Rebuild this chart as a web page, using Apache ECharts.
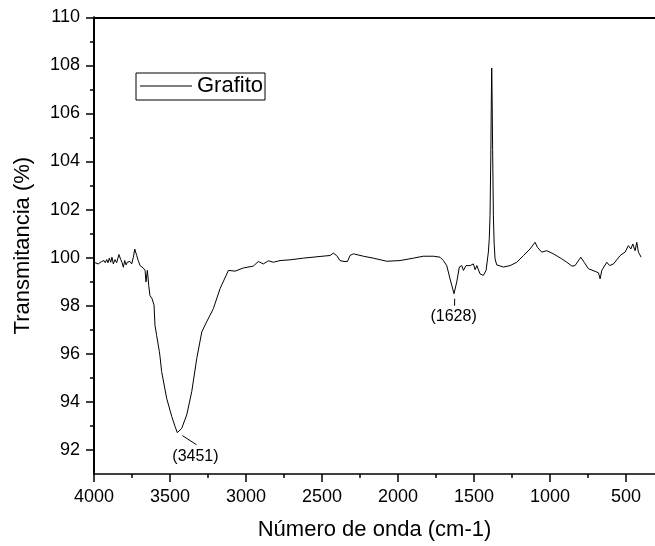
<!DOCTYPE html>
<html>
<head>
<meta charset="utf-8">
<script src="https://cdn.jsdelivr.net/npm/echarts@6/dist/echarts.min.js"></script>
<style>
html,body{margin:0;padding:0;background:#fff;}
#chart{width:655px;height:546px;}
</style>
</head>
<body>
<div id="chart"></div>
<script>
var wavenumbers = [3993,3972,3961,3950,3943,3934,3926,3916,3908,3899,3890,3882,3873,3862,3851,3836,3824,3816,3807,3798,3789,3781,3772,3763,3752,3741,3732,3719,3709,3697,3686,3676,3664,3658,3649,3640,3632,3618,3605,3599,3588,3570,3566,3555,3522,3489,3467,3452,3439,3423,3390,3357,3324,3291,3259,3215,3171,3116,3072,3018,2952,2919,2886,2853,2820,2776,2711,2623,2513,2447,2426,2404,2382,2355,2333,2316,2294,2228,2163,2074,1987,1899,1834,1768,1724,1702,1680,1658,1632,1614,1597,1581,1570,1553,1526,1505,1493,1482,1461,1439,1421,1406,1400,1395,1390,1386,1384,1382,1378,1373,1368,1362,1351,1307,1263,1219,1175,1132,1099,1083,1055,1022,978,923,890,857,836,798,776,748,704,682,671,660,627,609,583,539,507,485,469,456,441,430,419,401];
var transmittance = [99.79,99.74,99.81,99.84,99.79,99.88,99.79,99.92,99.79,99.98,99.81,100.02,99.74,99.92,99.79,100.13,99.92,99.81,99.6,99.88,99.70,99.81,99.74,99.84,99.74,100.02,100.36,100.09,99.88,99.67,99.74,99.57,99.47,98.99,99.47,98.84,98.43,98.29,98.02,97.19,96.77,96.09,95.9,95.26,94.15,93.40,92.98,92.72,92.78,92.9,93.46,94.43,95.81,96.91,97.33,97.88,98.71,99.47,99.44,99.57,99.65,99.84,99.74,99.87,99.81,99.88,99.91,99.98,100.05,100.09,100.19,100.09,99.88,99.84,99.84,100.09,100.16,100.06,99.98,99.85,99.88,99.98,100.06,100.06,100.02,99.88,99.67,99.12,98.5,98.99,99.61,99.67,99.47,99.67,99.67,99.74,99.5,99.67,99.33,99.26,99.47,100.23,100.8,101.74,104.2,106.9,107.89,107.0,104.5,101.74,100.6,99.95,99.7,99.61,99.67,99.81,100.09,100.36,100.64,100.43,100.23,100.29,100.16,99.95,99.81,99.65,99.67,100.02,99.81,99.54,99.43,99.37,99.12,99.47,99.81,99.67,99.74,100.09,100.23,100.5,100.36,100.57,100.29,100.64,100.23,100.02];
var xMajorTicks = [4000,3500,3000,2500,2000,1500,1000,500];
var xMinorTicks = [3750,3250,2750,2250,1750,1250,750];
var yMajorTicks = [92,94,96,98,100,102,104,106,108,110];
var yMinorTicks = [93,95,97,99,101,103,105,107,109];
var peakLabels = ['(3451)','(1628)'];
var peakWavenumbers = [3451,1628];
var peakValues = [92.72,98.5];
var seriesName = 'Grafito';
var xTitle = 'Número de onda (cm-1)';
var yTitle = 'Transmitancia (%)';

var FONT = '"Liberation Sans", Arial, sans-serif';
var data = wavenumbers.map(function(w,i){return [w, transmittance[i]];});

var chart = echarts.init(document.getElementById('chart'), null, {renderer:'canvas'});
var xBase = {type:'value', min:310, max:4000, inverse:true, gridIndex:0, splitLine:{show:false}};
var yBase = {type:'value', min:91, max:110, gridIndex:0, splitLine:{show:false}};
function ext(a,b){var o={};for(var k in a)o[k]=a[k];for(var k2 in b)o[k2]=b[k2];return o;}
function plain(v){return String(v);}

chart.setOption({
  animation:false,
  backgroundColor:'#fff',
  grid:{left:94, right:0, top:17.3, bottom:70, containLabel:false},
  legend:{
    show:true, left:136, top:73, orient:'horizontal',
    data:[{name:seriesName, icon:'rect'}],
    itemWidth:52, itemHeight:1, itemGap:5,
    itemStyle:{color:'#000', borderWidth:0},
    padding:[2,2,3,4],
    borderColor:'#000', borderWidth:1,
    textStyle:{fontFamily:FONT, fontSize:22, color:'#000'}
  },
  xAxis:[
    ext(xBase,{position:'bottom',
      axisLine:{show:true,onZero:false,lineStyle:{color:'#000',width:1.5}},
      axisTick:{show:true,inside:false,length:8,customValues:xMajorTicks,lineStyle:{color:'#000',width:1.5}},
      axisLabel:{show:true,customValues:xMajorTicks,formatter:plain,margin:14,color:'#000',fontFamily:FONT,fontSize:18},
      name:xTitle,nameLocation:'middle',nameGap:45,
      nameTextStyle:{fontFamily:FONT,fontSize:22,color:'#000'}}),
    ext(xBase,{position:'bottom',
      axisLine:{show:false,onZero:false},
      axisTick:{show:true,inside:false,length:4,customValues:xMinorTicks,lineStyle:{color:'#000',width:1.5}},
      axisLabel:{show:false}}),
    ext(xBase,{position:'top',
      axisLine:{show:true,onZero:false,lineStyle:{color:'#000',width:2}},
      axisTick:{show:false},axisLabel:{show:false}})
  ],
  yAxis:[
    ext(yBase,{position:'left',
      axisLine:{show:true,onZero:false,lineStyle:{color:'#000',width:2}},
      axisTick:{show:true,inside:false,length:8,customValues:yMajorTicks,lineStyle:{color:'#000',width:1.5}},
      axisLabel:{show:true,customValues:yMajorTicks,formatter:plain,margin:14,color:'#000',fontFamily:FONT,fontSize:18},
      name:yTitle,nameLocation:'middle',nameGap:60,nameRotate:90,
      nameTextStyle:{fontFamily:FONT,fontSize:22,color:'#000'}}),
    ext(yBase,{position:'left',
      axisLine:{show:false,onZero:false},
      axisTick:{show:true,inside:false,length:4,customValues:yMinorTicks,lineStyle:{color:'#000',width:1.5}},
      axisLabel:{show:false}})
  ],
  series:[{
    name:seriesName, type:'line', xAxisIndex:0, yAxisIndex:0,
    data:data, symbol:'none', smooth:false,
    lineStyle:{color:'#000',width:1}, itemStyle:{color:'#000'}
  }]
});

// Peak annotations placed through the chart's own scales
var lineOffsets = [[[5,3],[19,12]], [[0,5],[0,12]]];
var textOffsets = [[18,24], [-1,23]];
var elements = [];
peakWavenumbers.forEach(function(w,i){
  var p = chart.convertToPixel({xAxisIndex:0,yAxisIndex:0},[w,peakValues[i]]);
  var lo = lineOffsets[i];
  elements.push({type:'line', silent:true,
    shape:{x1:p[0]+lo[0][0], y1:p[1]+lo[0][1], x2:p[0]+lo[1][0], y2:p[1]+lo[1][1]},
    style:{stroke:'#000', lineWidth:1}});
  elements.push({type:'text', silent:true,
    x:p[0]+textOffsets[i][0], y:p[1]+textOffsets[i][1],
    style:{text:peakLabels[i], fill:'#000', font:'16px '+FONT, align:'center', verticalAlign:'middle'}});
});
chart.setOption({graphic:{elements:elements}});
</script>
</body>
</html>
